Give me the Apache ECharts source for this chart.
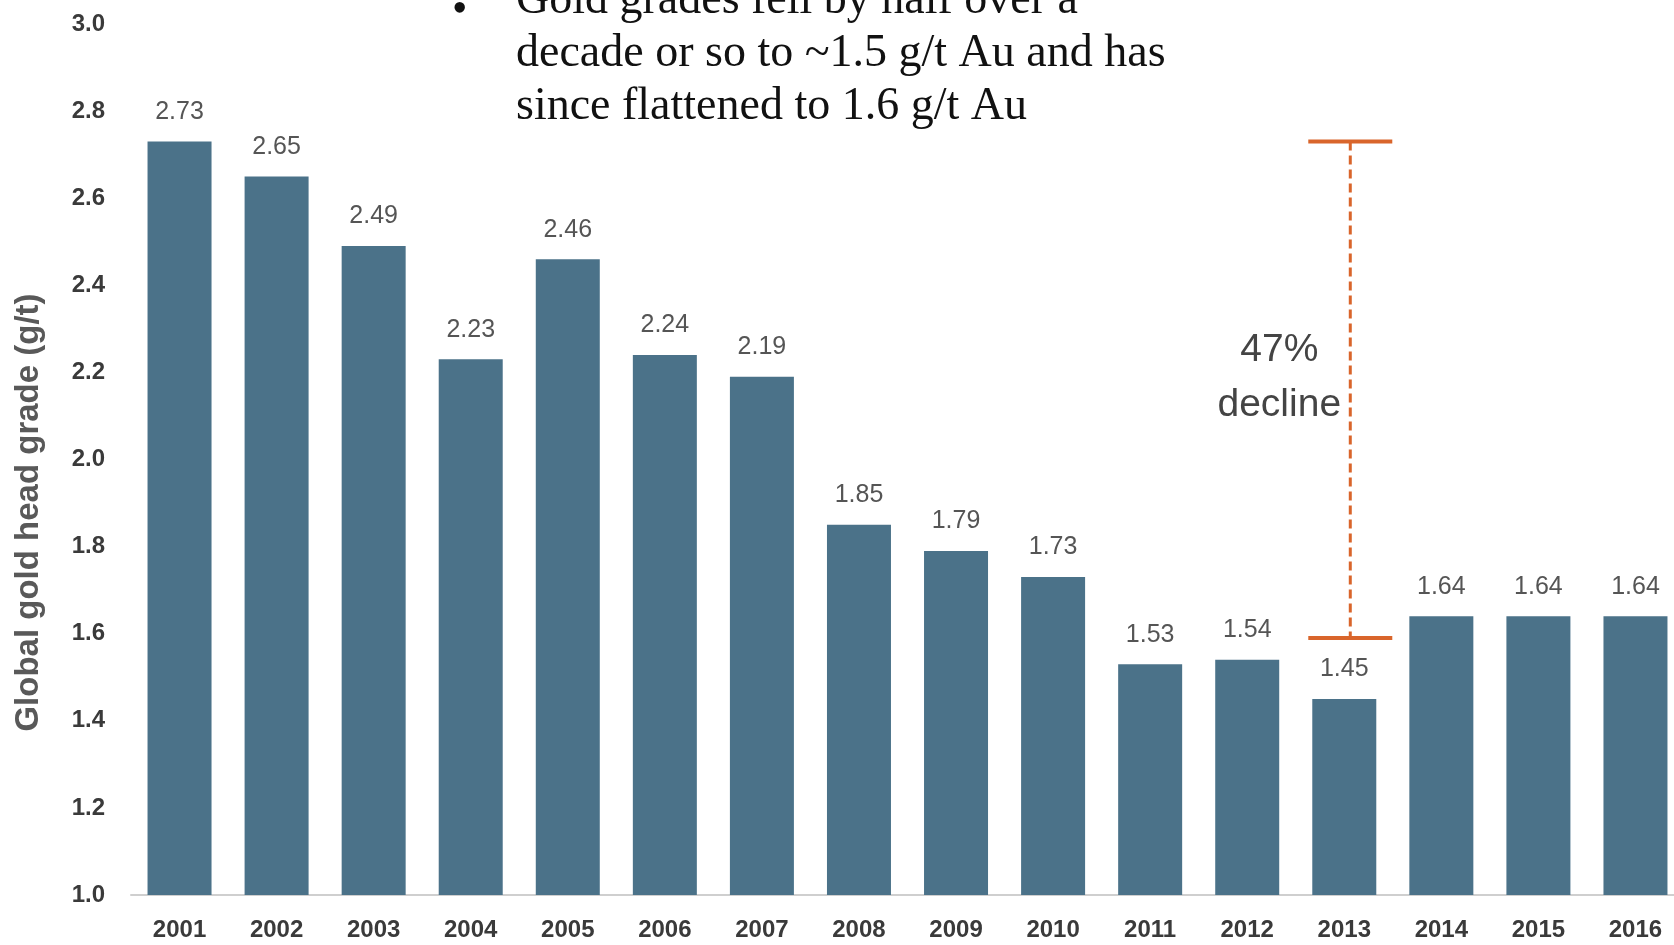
<!DOCTYPE html>
<html>
<head>
<meta charset="utf-8">
<script src="https://cdn.jsdelivr.net/npm/echarts@6/dist/echarts.min.js"></script>
<style>
  html, body { margin: 0; padding: 0; background: #fff; }
  #chart { width: 1674px; height: 945px; }
</style>
</head>
<body>
<div id="chart"></div>
<script>
// data
const years = ['2001', '2002', '2003', '2004', '2005', '2006', '2007', '2008',
               '2009', '2010', '2011', '2012', '2013', '2014', '2015', '2016'];
const headGrade = [2.73, 2.65, 2.49, 2.23, 2.46, 2.24, 2.19, 1.85,
                   1.79, 1.73, 1.53, 1.54, 1.45, 1.64, 1.64, 1.64];
const bracketYear = '2013';
const bracketTop = 2.73;
const bracketBottom = 1.59;
const bulletLines = [
    'Gold grades fell by half over a',
    'decade or so to ~1.5 g/t Au and has',
    'since flattened to 1.6 g/t Au'
];

const SANS = '"Liberation Sans", Arial, sans-serif';
const ORANGE = '#d9652b';

const chart = echarts.init(document.getElementById('chart'));

const option = {
    animation: false,
    backgroundColor: '#fff',
    grid: {
        left: 131,
        top: 24,
        bottom: 50,
        width: 1553,
        outerBoundsMode: 'none'
    },
    xAxis: {
        type: 'category',
        data: years,
        axisLine: {lineStyle: {color: '#cfcfcf', width: 2}},
        axisTick: {show: false},
        axisLabel: {
            margin: 23,
            fontFamily: SANS,
            fontWeight: 'bold',
            fontSize: 24,
            color: '#3a3a3a'
        }
    },
    yAxis: {
        type: 'value',
        min: 1.0,
        max: 3.0,
        interval: 0.2,
        name: 'Global gold head grade (g/t)',
        nameLocation: 'middle',
        nameRotate: 90,
        nameGap: 86,
        nameTextStyle: {
            fontFamily: SANS,
            fontWeight: 'bold',
            fontSize: 33,
            color: '#595959',
            padding: [0, 106, 0, 0]
        },
        splitLine: {show: false},
        axisLine: {show: false},
        axisTick: {show: false},
        axisLabel: {
            margin: 26,
            fontFamily: SANS,
            fontWeight: 'bold',
            fontSize: 24,
            color: '#3a3a3a',
            formatter: v => v.toFixed(1)
        }
    },
    series: [{
        type: 'bar',
        data: headGrade,
        barWidth: 64,
        itemStyle: {color: '#4b7289'},
        label: {
            show: true,
            position: 'top',
            distance: 17,
            fontFamily: SANS,
            fontSize: 25,
            color: '#555',
            formatter: p => p.value.toFixed(2)
        }
    }]
};
chart.setOption(option);

// bracket + annotation placed through the chart's own scales
const topPt = chart.convertToPixel({gridIndex: 0}, [bracketYear, bracketTop]);
const botPt = chart.convertToPixel({gridIndex: 0}, [bracketYear, bracketBottom]);
const bx = topPt[0] + 6;

chart.setOption({
    graphic: [
        {
            type: 'line',
            shape: {x1: bx, y1: topPt[1], x2: bx, y2: botPt[1]},
            style: {stroke: ORANGE, lineWidth: 3, lineDash: [9, 5]}
        },
        {
            type: 'line',
            shape: {x1: bx - 42, y1: topPt[1], x2: bx + 42, y2: topPt[1]},
            style: {stroke: ORANGE, lineWidth: 4}
        },
        {
            type: 'line',
            shape: {x1: bx - 42, y1: botPt[1], x2: bx + 42, y2: botPt[1]},
            style: {stroke: ORANGE, lineWidth: 4}
        },
        {
            type: 'text',
            x: bx - 71,
            y: 378,
            style: {
                text: '47%\ndecline',
                font: '39px ' + SANS,
                fill: '#444',
                align: 'center',
                verticalAlign: 'middle',
                lineHeight: 55
            }
        },
        {
            type: 'text',
            x: 452,
            y: -12,
            style: {
                text: '•',
                font: '44px "Liberation Serif", serif',
                fill: '#111'
            }
        },
        {
            type: 'text',
            x: 516,
            y: -26,
            style: {
                text: bulletLines.join('\n'),
                font: '46px "Liberation Serif", "DejaVu Serif", serif',
                fill: '#111',
                lineHeight: 53
            }
        }
    ]
});
</script>
</body>
</html>
